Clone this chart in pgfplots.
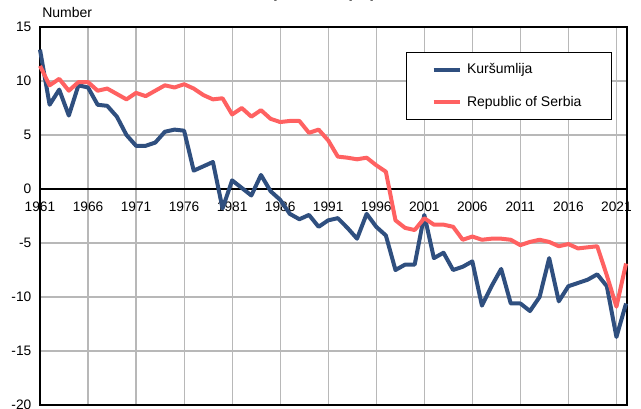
\documentclass[border=0pt]{standalone}
\usepackage{pgfplots}
\pgfplotsset{compat=1.18}
\usepackage{fontspec}
\setmainfont{Liberation Sans}
\definecolor{kblue}{RGB}{47,79,127}
\definecolor{sred}{RGB}{255,97,97}
\begin{document}
\begin{tikzpicture}
\begin{axis}[
  at={(30pt,2.25pt)}, anchor=south west,
  width=440.25pt, height=283.5pt, scale only axis,
  xmin=1961, xmax=2022.1, ymin=-20, ymax=15,
  xtick={1961,1966,...,2021}, ytick={-20,-15,...,15},
  major tick length=0pt,
  grid=major,
  grid style={color=black!28, line width=0.9pt},
  axis line style={black, line width=0.8pt},
  /pgf/number format/1000 sep={},
  /pgf/number format/assume math mode=true,
  tick label style={font=\fontsize{10.3}{12}\selectfont, text=black},
  xticklabel style={yshift=156pt},
  yticklabel style={xshift=-3pt},
  extra y ticks={0}, extra y tick labels={},
  extra y tick style={grid style={black, line width=0.8pt}},
  legend style={at={(0.6235,0.9339)}, anchor=north west, draw=black, line width=0.6pt,
    font=\fontsize{10.5}{12}\selectfont, inner xsep=19pt, inner ysep=6.5pt,
    row sep=11pt, nodes={inner xsep=3.5pt}},
  legend cell align=left,
  legend image code/.code={\draw[#1, line width=3pt] (0pt,0pt) -- (20pt,0pt);},
  clip=false,
]
\addplot[kblue, line width=3pt, line join=round] coordinates {
(1961,12.9)(1962,7.8)(1963,9.2)(1964,6.8)(1965,9.6)(1966,9.4)(1967,7.8)(1968,7.7)(1969,6.7)(1970,5.0)
(1971,4.0)(1972,4.0)(1973,4.3)(1974,5.3)(1975,5.5)(1976,5.4)(1977,1.7)(1978,2.1)(1979,2.5)(1980,-1.8)
(1981,0.8)(1982,0.1)(1983,-0.6)(1984,1.3)(1985,-0.2)(1986,-1.0)(1987,-2.3)(1988,-2.8)(1989,-2.4)(1990,-3.5)
(1991,-2.9)(1992,-2.7)(1993,-3.6)(1994,-4.6)(1995,-2.3)(1996,-3.5)(1997,-4.3)(1998,-7.5)(1999,-7.0)(2000,-7.0)
(2001,-2.4)(2002,-6.4)(2003,-5.9)(2004,-7.5)(2005,-7.2)(2006,-6.7)(2007,-10.8)(2008,-9.0)(2009,-7.4)(2010,-10.6)
(2011,-10.6)(2012,-11.3)(2013,-10.0)(2014,-6.4)(2015,-10.4)(2016,-9.0)(2017,-8.7)(2018,-8.4)(2019,-7.9)(2020,-9.0)
(2021,-13.7)(2022,-10.6)
};
\addlegendentry{Kuršumlija}
\addplot[sred, line width=3pt, line join=round] coordinates {
(1961,11.4)(1962,9.6)(1963,10.2)(1964,9.1)(1965,9.9)(1966,9.9)(1967,9.1)(1968,9.3)(1969,8.8)(1970,8.3)
(1971,8.9)(1972,8.6)(1973,9.1)(1974,9.6)(1975,9.4)(1976,9.7)(1977,9.3)(1978,8.7)(1979,8.3)(1980,8.4)
(1981,6.9)(1982,7.5)(1983,6.7)(1984,7.3)(1985,6.5)(1986,6.2)(1987,6.3)(1988,6.3)(1989,5.2)(1990,5.5)
(1991,4.5)(1992,3.0)(1993,2.9)(1994,2.75)(1995,2.9)(1996,2.2)(1997,1.6)(1998,-2.9)(1999,-3.6)(2000,-3.8)
(2001,-2.7)(2002,-3.3)(2003,-3.3)(2004,-3.5)(2005,-4.7)(2006,-4.4)(2007,-4.7)(2008,-4.6)(2009,-4.6)(2010,-4.7)
(2011,-5.2)(2012,-4.9)(2013,-4.7)(2014,-4.9)(2015,-5.3)(2016,-5.1)(2017,-5.5)(2018,-5.4)(2019,-5.3)(2020,-8.0)
(2021,-10.9)(2022,-6.9)
};
\addlegendentry{Republic of Serbia}
\node[anchor=south west, inner sep=0pt, font=\fontsize{10.5}{12}\selectfont] at (rel axis cs:0,1) [yshift=7pt,xshift=1.5pt] {Number};
\end{axis}
\node[anchor=base, inner sep=0pt, font=\fontsize{13}{15}\selectfont\bfseries] at (250pt,308.2pt) {Natural increase per 1000 population, 1961--2022};
\pgfresetboundingbox
\path[use as bounding box] (0,0) rectangle (480.75pt,306pt);
\end{tikzpicture}
\end{document}
